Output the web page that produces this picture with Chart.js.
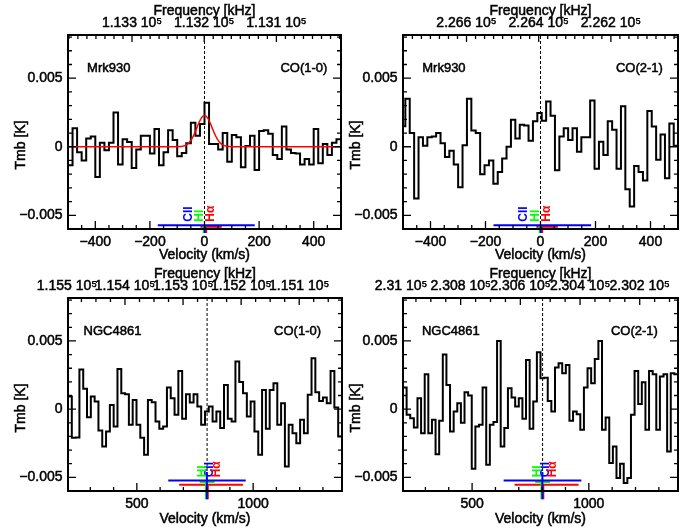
<!DOCTYPE html>
<html>
<head>
<meta charset="utf-8">
<script src="https://cdn.jsdelivr.net/npm/chart.js@4.4.1/dist/chart.umd.min.js"></script>
<style>
  html, body { margin: 0; padding: 0; background: #fff; }
  #wrap { position: relative; width: 696px; height: 531px; overflow: hidden; }
  canvas { position: absolute; }
</style>
</head>
<body>
<div id="wrap">
  <canvas id="p1" width="348" height="265" style="left:0;top:0"></canvas>
  <canvas id="p2" width="348" height="265" style="left:348px;top:0"></canvas>
  <canvas id="p3" width="348" height="266" style="left:0;top:265px"></canvas>
  <canvas id="p4" width="348" height="266" style="left:348px;top:265px"></canvas>
</div>
<script>
const FONT = '"Liberation Sans", Arial, sans-serif';

// Mrk930 CO(1-0): channel grid + Tmb in mK
const mrkCo10V0 = -500, mrkCo10Dv = 1000 / 60;
const mrkCo10 = [-1.35, 1.35, -0.4, -1.0, 0.6, 0.75, -2.2, 0.3, -0.25, 0.3,
  2.5, -1.3, 0.55, 0.35, -1.55, -0.2, 0.8, 0.8, -0.5, 1.3,
  -1.35, -0.4, 1.2, 0.5, -0.7, -0.45, 0.25, 1.75, 0.8, 1.65,
  3.2, 0.2, 0.2, -0.2, 1.0, -1.1, 0.85, 0.7, -1.5, 0.05,
  0.8, -1.7, 1.15, 1.2, 0.95, -0.6, -0.9, 1.47, -0.2, -0.45,
  -0.5, -1.3, -0.9, -1.3, 1.3, -1.2, 0.2, -0.6, 0.3, 0.55];

// gaussian fit (km/s, mK)
const fitVel = [-500, -100, -90, -80, -70, -60, -50, -40, -30, -20, -10, 0,
  10, 20, 30, 40, 50, 60, 70, 80, 90, 100, 500];
const fitTmb = [0, 0, 0.01, 0.04, 0.1, 0.23, 0.46, 0.82, 1.28, 1.77, 2.14, 2.28,
  2.14, 1.77, 1.28, 0.82, 0.46, 0.23, 0.1, 0.04, 0.01, 0, 0];

// Mrk930 CO(2-1)
const mrkCo21V0 = -507.5, mrkCo21Dv = 16.0;
const mrkCo21 = [1.5, 3.5, 1.0, -3.77, 0.7, 0.07, 0.7, 0.75, 1.0, 0.25,
  -0.74, -0.3, -1.3, -2.96, 0.1, 3.5, 1.18, 1.0, -2.0, -1.35,
  -1.0, -2.7, -1.85, -0.86, 0.0, 1.97, 0.6, 1.6, 1.55, 0.44,
  1.85, 2.46, 1.9, 3.3, 2.26, -1.72, 0.74, 1.35, 0.5, 1.35,
  -0.37, 0.7, 0.7, 3.37, -1.6, 0.37, -0.6, 1.85, 1.23, -1.6,
  2.95, -3.1, -4.36, -1.4, -1.85, -2.46, 2.6, 1.48, -0.94, 0.9,
  -2.3, 1.7, 0.07];

// NGC4861 CO(1-0)
const ngcCo10V0 = 204, ngcCo10Dv = 16.36;
const ngcCo10 = [0.93, -2.1, -2.07, 2.9, 1.5, -0.6, 0.93, 0.56, -1.56, -2.73,
  -1.63, 0.3, -1.27, 2.95, 1.17, 1.1, -1.15, 0.68, -1.15, -2.1,
  -3.34, 0.68, 0.51, -0.9, -1.44, -1.27, 1.58, 0.8, -0.41, 2.8,
  -0.7, 1.1, 0.49, 1.1, 0.2, -1.15, -0.17, 0.2, -0.9, -0.17,
  -1.39, 1.78, -0.7, -0.9, 3.5, 2.0, 1.17, -0.54, 0.56, -1.63,
  -3.34, 1.41, -1.44, 1.41, 1.9, -1.15, 0.44, -4.2, -1.15, -1.76,
  -2.49, -0.78, -1.76, 1.05, 3.73, 1.24, 0.6, 0.85, 0.44, 2.8,
  0.12, -2.0];

// NGC4861 CO(2-1)
const ngcCo21V0 = 204, ngcCo21Dv = 15.5;
const ngcCo21 = [1.58, -0.41, -0.66, -1.34, 0.8, -1.76, 2.56, -1.76, -0.78, -3.3,
  -0.85, 4.0, 1.78, -1.63, -0.17, 0.44, -1.0, 1.24, 1.0, -4.37,
  -1.27, -1.15, 1.58, -4.07, -1.15, -0.95, 5.0, -2.73, -1.39, 1.54,
  0.85, 0.2, 0.8, -0.7, 3.6, -1.44, 0.56, 4.17, 2.27, 2.3,
  0.6, -0.17, 3.05, 3.37, 2.63, 3.24, -0.85, -0.17, -0.37, -1.51,
  1.58, 3.0, 1.9, 3.68, 5.0, -1.51, -0.61, -3.95, -2.73, -5.05,
  -4.0, -5.41, -5.05, -0.41, 2.8, 0.37, 1.98, -1.51, 2.8, 2.56,
  -1.51, 2.39, 2.56, -3.1, 2.63, 2.56];

// other tracers: name, colour, velocity, lower / upper velocity
const tracerNames = ['CII', 'HI', 'H\u03b1'];
const tracerColors = ['#0000ff', '#00ff00', '#ff0000'];
const mrkTracerVel = [1, -3, 6];
const mrkTracerLo = [-171, -8, -15];
const mrkTracerHi = [184, 4, 63];
const ngcTracerVel = [801, 797, 805];
const ngcTracerLo = [635, 770, 682];
const ngcTracerHi = [968, 834, 956];

// axis ticks
const velTicksMrk = [-400, -200, 0, 200, 400];
const velTicksNgc = [500, 1000];
const tmbTicks = [-0.005, 0, 0.005];
const freqTicksP1 = [113300, 113200, 113100];
const freqTicksP2 = [226600, 226400, 226200];
const freqTicksP3 = [115500, 115400, 115300, 115200, 115100];
const freqTicksP4 = [231000, 230800, 230600, 230400, 230200];

const Y_MIN = -0.006, Y_MAX = 0.00815;

function stepPoints(v0, dv, vals) {
  const pts = [{ x: v0, y: vals[0] / 1000 }];
  vals.forEach((t, i) => pts.push({ x: v0 + (i + 0.5) * dv, y: t / 1000 }));
  pts.push({ x: v0 + vals.length * dv, y: vals[vals.length - 1] / 1000 });
  return pts;
}

function minusFmt(v, digits) {
  const s = digits ? Math.abs(v).toFixed(digits) : String(Math.abs(v));
  return v === 0 ? '0' : (v < 0 ? '\u2212' : '') + s;
}

// text with a thin outline, to get closer to the heavy IDL glyphs
function heavyText(ctx, s, x, y) {
  ctx.strokeText(s, x, y);
  ctx.fillText(s, x, y);
}

function panel(id, o) {
  const datasets = [];
  datasets.push({
    data: stepPoints(o.v0, o.dv, o.vals),
    borderColor: '#000', borderWidth: 2, stepped: 'middle', order: 2
  });
  datasets.push({
    data: [{ x: o.vsys, y: Y_MIN }, { x: o.vsys, y: Y_MAX }],
    borderColor: '#000', borderWidth: 1, borderDash: [3, 2], order: 3
  });
  if (o.fit) {
    datasets.push({
      data: fitVel.map((v, i) => ({ x: v, y: fitTmb[i] / 1000 })),
      borderColor: '#ff0000', borderWidth: 1.5, cubicInterpolationMode: 'monotone', order: 1
    });
  }
  tracerNames.forEach((n, i) => {
    datasets.push({
      data: [{ x: o.trLo[i], y: o.barY[i] }, { x: o.trHi[i], y: o.barY[i] }],
      borderColor: tracerColors[i], borderWidth: 2, clip: false, order: 0
    });
    datasets.push({
      data: [{ x: o.trVel[i], y: o.stemTop[i] }, { x: o.trVel[i], y: o.stemBot }],
      borderColor: tracerColors[i], borderWidth: 2, clip: false, order: 0
    });
  });

  const decor = {
    id: 'decor',
    afterDraw(chart) {
      const { ctx, chartArea: a, scales: { x, x2, y } } = chart;
      ctx.save();
      ctx.strokeStyle = '#000';
      ctx.lineWidth = 1.3;
      ctx.beginPath();
      // velocity ticks (bottom)
      for (let i = Math.ceil(x.min / o.velMinor); i * o.velMinor <= x.max; i++) {
        const v = i * o.velMinor;
        const len = o.velTicks.includes(v) ? 8 : 4;
        const px = x.getPixelForValue(v);
        ctx.moveTo(px, a.bottom); ctx.lineTo(px, a.bottom - len);
      }
      // frequency ticks (top)
      for (let i = Math.ceil(x2.min / o.freqMinor); i * o.freqMinor <= x2.max; i++) {
        const f = i * o.freqMinor;
        const len = o.freqTicks.includes(f) ? 7 : 4;
        const px = x2.getPixelForValue(f);
        ctx.moveTo(px, a.top); ctx.lineTo(px, a.top + len);
      }
      // Tmb ticks, left and right
      for (let i = Math.ceil(Y_MIN / 0.001); i * 0.001 <= Y_MAX; i++) {
        const len = i % 5 === 0 ? 8 : 4;
        const py = y.getPixelForValue(i * 0.001);
        ctx.moveTo(a.left, py); ctx.lineTo(a.left + len, py);
        ctx.moveTo(a.right, py); ctx.lineTo(a.right - len, py);
      }
      ctx.stroke();
      ctx.lineWidth = 2;
      ctx.strokeRect(a.left, a.top, a.right - a.left, a.bottom - a.top);

      // axis titles
      ctx.fillStyle = '#000';
      ctx.lineWidth = 0.5;
      ctx.font = '14px ' + FONT;
      ctx.textAlign = 'center';
      ctx.textBaseline = 'alphabetic';
      const cx = (a.left + a.right) / 2;
      heavyText(ctx, 'Velocity (km/s)', cx, a.bottom + o.velTitle);
      heavyText(ctx, 'Frequency [kHz]', cx, a.top - 20);
      ctx.save();
      ctx.translate(a.left - 43, a.top + 110);
      ctx.rotate(-Math.PI / 2);
      heavyText(ctx, 'Tmb [K]', 0, 0);
      ctx.restore();

      // source / transition labels
      ctx.font = '13px ' + FONT;
      ctx.textAlign = 'left';
      heavyText(ctx, o.name, x.getPixelForValue(o.nameVel), a.top + 36.5);
      ctx.textAlign = 'right';
      heavyText(ctx, o.line, x.getPixelForValue(o.lineVel), a.top + 36.5);

      // tracer labels, rotated
      ctx.font = 'bold 12px ' + FONT;
      ctx.textAlign = 'left';
      ctx.textBaseline = 'middle';
      tracerNames.forEach((n, i) => {
        ctx.save();
        ctx.translate(x.getPixelForValue(o.labVel[i]), y.getPixelForValue(o.labY));
        ctx.rotate(-Math.PI / 2);
        ctx.fillStyle = tracerColors[i];
        ctx.fillText(n, 0, 0);
        ctx.restore();
      });
      ctx.restore();
    }
  };

  const tickFont = { family: FONT, size: 14 };
  const tickLook = { font: tickFont, color: '#000', textStrokeColor: '#000', textStrokeWidth: 0.5 };
  return new Chart(document.getElementById(id), {
    type: 'line',
    data: { datasets },
    options: {
      responsive: false,
      animation: false,
      events: [],
      layout: { padding: { left: 0, right: o.padRight, top: 0, bottom: 0 } },
      elements: { point: { radius: 0 }, line: { tension: 0 } },
      plugins: { legend: { display: false }, tooltip: { enabled: false } },
      scales: {
        x: {
          type: 'linear', position: 'bottom', min: o.xMin, max: o.xMax,
          grid: { display: false, drawTicks: false }, border: { display: false },
          ticks: { ...tickLook, padding: 5, maxRotation: 0, autoSkip: false,
            callback: v => minusFmt(v) },
          afterBuildTicks: s => { s.ticks = o.velTicks.map(v => ({ value: v })); },
          afterFit: s => { s.height = o.bottomH; s.paddingLeft = 0; s.paddingRight = 0; }
        },
        x2: {
          type: 'linear', position: 'top', reverse: true, min: o.fMin, max: o.fMax,
          grid: { display: false, drawTicks: false }, border: { display: false },
          ticks: { ...tickLook, padding: 3.5, maxRotation: 0, autoSkip: false,
            callback: v => parseFloat((v / 1e5).toFixed(4)) + ' 10\u2075' },
          afterBuildTicks: s => { s.ticks = o.freqTicks.map(v => ({ value: v })); },
          afterFit: s => { s.height = o.top; s.paddingLeft = 0; s.paddingRight = 0; }
        },
        y: {
          type: 'linear', position: 'left', min: Y_MIN, max: Y_MAX,
          grid: { display: false, drawTicks: false }, border: { display: false },
          ticks: { ...tickLook, padding: 5.5,
            callback: v => minusFmt(v, 3) },
          afterBuildTicks: s => { s.ticks = tmbTicks.map(v => ({ value: v })); },
          afterFit: s => { s.width = o.left; s.paddingTop = 0; s.paddingBottom = 0; }
        }
      }
    },
    plugins: [decor]
  });
}

const mrkBar = [-0.00572, -0.0059, -0.00584];
const mrkStemTop = [-0.00572, -0.0058, -0.00584];
const ngcBar = [-0.00523, -0.00534, -0.00554];
const ngcStemTop = [-0.0046, -0.0052, -0.0055];

panel('p1', {
  v0: mrkCo10V0, dv: mrkCo10Dv, vals: mrkCo10, fit: true, vsys: 0,
  xMin: -500, xMax: 500, fMin: 113010.5, fMax: 113388.7,
  velTicks: velTicksMrk, velMinor: 50, freqTicks: freqTicksP1, freqMinor: 12.5,
  left: 68, top: 35, bottomH: 36, padRight: 7, velTitle: 30,
  name: 'Mrk930', nameVel: -430, line: 'CO(1-0)', lineVel: 450,
  trVel: mrkTracerVel, trLo: mrkTracerLo, trHi: mrkTracerHi,
  barY: mrkBar, stemTop: mrkStemTop, stemBot: -0.0063,
  labVel: [-57, -17, 23], labY: -0.00547
});
panel('p2', {
  v0: mrkCo21V0, dv: mrkCo21Dv, vals: mrkCo21, fit: false, vsys: 0,
  xMin: -500, xMax: 500, fMin: 226014, fMax: 226776,
  velTicks: velTicksMrk, velMinor: 50, freqTicks: freqTicksP2, freqMinor: 25,
  left: 55, top: 35, bottomH: 36, padRight: 18, velTitle: 30,
  name: 'Mrk930', nameVel: -430, line: 'CO(2-1)', lineVel: 445,
  trVel: mrkTracerVel, trLo: mrkTracerLo, trHi: mrkTracerHi,
  barY: mrkBar, stemTop: mrkStemTop, stemBot: -0.0063,
  labVel: [-60, -17, 24], labY: -0.00547
});
panel('p3', {
  v0: ngcCo10V0, dv: ngcCo10Dv, vals: ngcCo10, fit: false, vsys: 802,
  xMin: 204, xMax: 1382, fMin: 115026.3, fMax: 115498.1,
  velTicks: velTicksNgc, velMinor: 100, freqTicks: freqTicksP3, freqMinor: 25,
  left: 68, top: 33, bottomH: 40, padRight: 6, velTitle: 31.5,
  name: 'NGC4861', nameVel: 271, line: 'CO(1-0)', lineVel: 1292,
  trVel: ngcTracerVel, trLo: ngcTracerLo, trHi: ngcTracerHi,
  barY: ngcBar, stemTop: ngcStemTop, stemBot: -0.0066,
  labVel: [812, 783, 845], labY: -0.0050
});
panel('p4', {
  v0: ngcCo21V0, dv: ngcCo21Dv, vals: ngcCo21, fit: false, vsys: 802,
  xMin: 204, xMax: 1382, fMin: 230071.7, fMax: 230993.3,
  velTicks: velTicksNgc, velMinor: 100, freqTicks: freqTicksP4, freqMinor: 50,
  left: 55, top: 33, bottomH: 40, padRight: 18, velTitle: 31.5,
  name: 'NGC4861', nameVel: 285, line: 'CO(2-1)', lineVel: 1296,
  trVel: ngcTracerVel, trLo: ngcTracerLo, trHi: ngcTracerHi,
  barY: ngcBar, stemTop: ngcStemTop, stemBot: -0.0066,
  labVel: [815, 783, 847], labY: -0.0050
});
</script>
</body>
</html>
